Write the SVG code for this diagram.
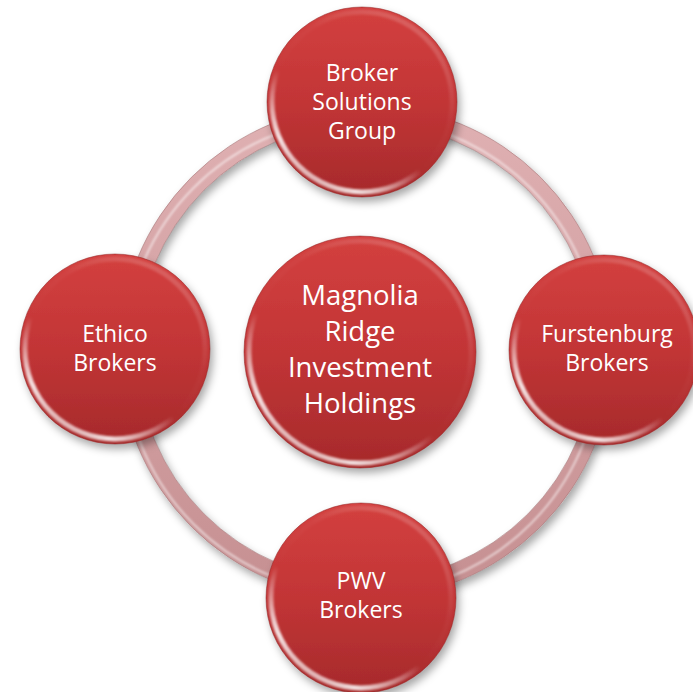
<svg xmlns="http://www.w3.org/2000/svg" width="693" height="692" viewBox="0 0 693 692">
<defs>
  <style>
    .node-fill { fill: url(#redG); }
    .rim { fill: none; stroke: url(#rimG); stroke-width: 5; filter: url(#soft); }
    .edge { fill: none; stroke: #8e2222; stroke-width: 1; stroke-opacity: 0.5; }
    .lbl { font-family: "Open Sans", "Liberation Sans", sans-serif; fill: #ffffff; text-anchor: middle; font-size: 23px; }
    .lbl-c { font-size: 27.5px; }
  </style>
  <linearGradient id="redG" x1="0" y1="0" x2="0" y2="1">
    <stop offset="0" stop-color="#d3403f"/>
    <stop offset="0.5" stop-color="#c23536"/>
    <stop offset="1" stop-color="#a62a2b"/>
  </linearGradient>
  <linearGradient id="rimG" x1="0.85" y1="0" x2="0.15" y2="1">
    <stop offset="0" stop-color="#ffffff" stop-opacity="0.22"/>
    <stop offset="0.35" stop-color="#ffffff" stop-opacity="0.03"/>
    <stop offset="0.6" stop-color="#ffffff" stop-opacity="0"/>
    <stop offset="0.85" stop-color="#ffffff" stop-opacity="0.85"/>
    <stop offset="1" stop-color="#ffffff" stop-opacity="0.35"/>
  </linearGradient>
  <linearGradient id="ringG" x1="0" y1="0" x2="0" y2="1">
    <stop offset="0" stop-color="#dfb0b2"/>
    <stop offset="1" stop-color="#c69092"/>
  </linearGradient>
  <filter id="sh" x="-20%" y="-20%" width="140%" height="140%">
    <feDropShadow dx="3" dy="5" stdDeviation="4" flood-color="#000000" flood-opacity="0.35"/>
  </filter>
  <filter id="soft" x="-10%" y="-10%" width="120%" height="120%">
    <feGaussianBlur stdDeviation="1.2"/>
  </filter>
</defs>
<rect width="693" height="692" fill="#ffffff"/>

<g id="connectors">
  <circle cx="366" cy="352" r="238" fill="none" stroke="url(#ringG)" stroke-width="18" filter="url(#sh)"/>
  <circle cx="366" cy="352" r="247" fill="none" stroke="#a97a7c" stroke-width="1" stroke-opacity="0.6"/>
  <circle cx="366" cy="352" r="229" fill="none" stroke="#a97a7c" stroke-width="1" stroke-opacity="0.6"/>
  <circle cx="362" cy="356" r="238" fill="none" stroke="#ffffff" stroke-width="2" stroke-opacity="0.55" filter="url(#soft)"/>
</g>

<g id="node-center">
  <circle cx="360" cy="352" r="116" class="node-fill" filter="url(#sh)"/>
  <circle cx="360" cy="352" r="111" class="rim"/>
  <circle cx="360" cy="352" r="116" class="edge"/>
  <text class="lbl lbl-c" x="360" y="305">Magnolia</text>
  <text class="lbl lbl-c" x="360" y="341">Ridge</text>
  <text class="lbl lbl-c" x="360" y="377">Investment</text>
  <text class="lbl lbl-c" x="360" y="413">Holdings</text>
</g>

<g id="node-top">
  <circle cx="362" cy="102" r="95" class="node-fill" filter="url(#sh)"/>
  <circle cx="362" cy="102" r="90" class="rim"/>
  <circle cx="362" cy="102" r="95" class="edge"/>
  <text class="lbl" x="362" y="81">Broker</text>
  <text class="lbl" x="362" y="110">Solutions</text>
  <text class="lbl" x="362" y="139">Group</text>
</g>

<g id="node-left">
  <circle cx="115" cy="349" r="95" class="node-fill" filter="url(#sh)"/>
  <circle cx="115" cy="349" r="90" class="rim"/>
  <circle cx="115" cy="349" r="95" class="edge"/>
  <text class="lbl" x="115" y="342">Ethico</text>
  <text class="lbl" x="115" y="371">Brokers</text>
</g>

<g id="node-right">
  <circle cx="604" cy="350" r="95" class="node-fill" filter="url(#sh)"/>
  <circle cx="604" cy="350" r="90" class="rim"/>
  <circle cx="604" cy="350" r="95" class="edge"/>
  <text class="lbl" x="607" y="342">Furstenburg</text>
  <text class="lbl" x="607" y="371">Brokers</text>
</g>

<g id="node-bottom">
  <circle cx="361" cy="598" r="95" class="node-fill" filter="url(#sh)"/>
  <circle cx="361" cy="598" r="90" class="rim"/>
  <circle cx="361" cy="598" r="95" class="edge"/>
  <text class="lbl" x="361" y="589">PWV</text>
  <text class="lbl" x="361" y="618">Brokers</text>
</g>
</svg>
